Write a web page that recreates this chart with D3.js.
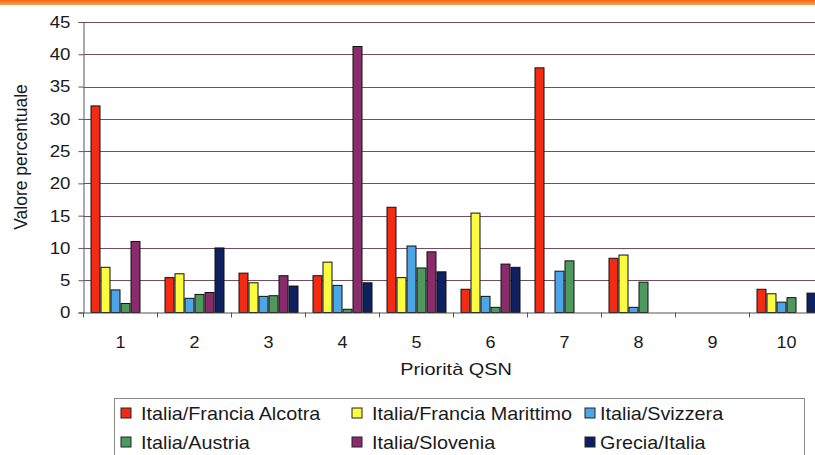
<!DOCTYPE html>
<html>
<head>
<meta charset="utf-8">
<script src="https://cdn.jsdelivr.net/npm/d3@7"></script>
<style>
  html, body { margin: 0; padding: 0; background: #fff; }
  svg { display: block; }
  text { font-family: "Liberation Sans", Arial, sans-serif; fill: #1a1a1a; }
</style>
</head>
<body>
<svg id="chart" width="815" height="455"></svg>
<script>
const categories = ["1", "2", "3", "4", "5", "6", "7", "8", "9", "10"];
const seriesNames = ["Italia/Francia Alcotra", "Italia/Francia Marittimo", "Italia/Svizzera",
                     "Italia/Austria", "Italia/Slovenia", "Grecia/Italia"];
const alcotra    = [32.0, 5.4, 6.1, 5.7, 16.3, 3.6, 37.9, 8.4, 0, 3.6];
const marittimo  = [7.0, 6.0, 4.6, 7.8, 5.4, 15.4, 0, 8.9, 0, 2.9];
const svizzera   = [3.5, 2.2, 2.5, 4.2, 10.3, 2.5, 6.4, 0.8, 0, 1.6];
const austria    = [1.4, 2.8, 2.6, 0.5, 6.9, 0.8, 8.0, 4.7, 0, 2.3];
const slovenia   = [11.0, 3.1, 5.7, 41.2, 9.4, 7.5, 0, 0, 0, 0];
const grecia     = [0, 10.0, 4.1, 4.6, 6.3, 7.0, 0, 0, 0, 3.0];
const yTicks = [0, 5, 10, 15, 20, 25, 30, 35, 40, 45];
const xTitle = "Priorità QSN";
const yTitle = "Valore percentuale";

const seriesValues = [alcotra, marittimo, svizzera, austria, slovenia, grecia];
const colors = ["#f42a12", "#fbfb40", "#4aa6e6", "#4e9a5e", "#8a2c6c", "#0e2060"];

const svg = d3.select("#chart");

// top orange band
const defs = svg.append("defs");
const grad = defs.append("linearGradient").attr("id", "topband").attr("x1", 0).attr("y1", 0).attr("x2", 0).attr("y2", 1);
grad.append("stop").attr("offset", "0%").attr("stop-color", "#ee6a1a");
grad.append("stop").attr("offset", "100%").attr("stop-color", "#f8a050");
svg.append("rect").attr("x", 0).attr("y", 0).attr("width", 815).attr("height", 5).attr("fill", "url(#topband)");

const left = 83.5, bandW = 74;
const x0 = d3.scaleBand().domain(categories).range([left, left + bandW * categories.length]).padding(0);
const x1 = d3.scaleBand().domain(seriesNames).range([7, bandW - 7]).padding(0);
const y = d3.scaleLinear().domain([0, 45]).range([312.5, 22]);

// gridlines
svg.append("g").selectAll("line").data(yTicks.filter(d => d > 0)).join("line")
  .attr("x1", left).attr("x2", 815)
  .attr("y1", d => Math.round(y(d)) + 0.5).attr("y2", d => Math.round(y(d)) + 0.5)
  .attr("stroke", "#7a4b58").attr("stroke-width", 1);

// y axis
const yAxis = d3.axisLeft(y).tickValues(yTicks).tickSize(5).tickPadding(0);
const gy = svg.append("g").attr("transform", `translate(${left},0)`).call(yAxis);
gy.select(".domain").attr("stroke", "#555");
gy.selectAll(".tick line").attr("stroke", "#555");
gy.selectAll(".tick text").attr("font-size", 17).attr("fill", "#1a1a1a")
  .attr("font-family", "Liberation Sans, Arial, sans-serif")
  .attr("x", 0).attr("transform", "translate(-13,0) scale(1.1,1)");

// bars
const groups = svg.append("g").selectAll("g").data(categories).join("g")
  .attr("transform", d => `translate(${x0(d)},0)`);
groups.selectAll("rect")
  .data((c, i) => seriesNames.map((s, j) => ({ s, j, v: seriesValues[j][i] })).filter(d => d.v > 0))
  .join("rect")
  .attr("x", d => x1(d.s) + 0.5)
  .attr("width", x1.bandwidth() - 1)
  .attr("y", d => y(d.v))
  .attr("height", d => y(0) - y(d.v))
  .attr("fill", d => colors[d.j])
  .attr("stroke", "#111").attr("stroke-width", 1);

// x axis
const xAxis = d3.axisBottom(x0).tickSize(0).tickPadding(0);
const gx = svg.append("g").attr("transform", `translate(0,${y(0)})`).call(xAxis);
gx.select(".domain").attr("stroke", "#555");
gx.selectAll(".tick text").attr("font-size", 17).attr("fill", "#1a1a1a")
  .attr("font-family", "Liberation Sans, Arial, sans-serif")
  .attr("y", 0).attr("dy", "0.71em").attr("transform", "translate(0,23) scale(1.06,1)");
// category boundary ticks
svg.append("g").selectAll("line").data(categories).join("line")
  .attr("x1", d => x0(d)).attr("x2", d => x0(d))
  .attr("y1", y(0)).attr("y2", y(0) + 5)
  .attr("stroke", "#555");

// titles
svg.append("text").attr("transform", "translate(456,375) scale(1.17,1)")
  .attr("text-anchor", "middle").attr("font-size", 17).text(xTitle);
svg.append("text").attr("transform", "translate(27,157) rotate(-90)")
  .attr("text-anchor", "middle").attr("font-size", 17.5).text(yTitle);

// legend
const lg = svg.append("g");
lg.append("rect").attr("x", 114.5).attr("y", 398.5).attr("width", 690).attr("height", 80)
  .attr("fill", "#fff").attr("stroke", "#888");
const colX = [121, 352, 585];
const textX = [141, 372, 600];
const rowY = [413, 442];
const items = lg.selectAll("g.item").data(seriesNames).join("g").attr("class", "item");
items.append("rect")
  .attr("x", (d, i) => colX[i % 3]).attr("y", (d, i) => rowY[Math.floor(i / 3)] - 5)
  .attr("width", 10).attr("height", 10)
  .attr("fill", (d, i) => colors[i]).attr("stroke", "#222");
items.append("text")
  .attr("transform", (d, i) => `translate(${textX[i % 3]},${rowY[Math.floor(i / 3)] + 1}) scale(1.1,1)`)
  .attr("dy", "0.35em").attr("font-size", 18).text(d => d);
</script>
</body>
</html>
